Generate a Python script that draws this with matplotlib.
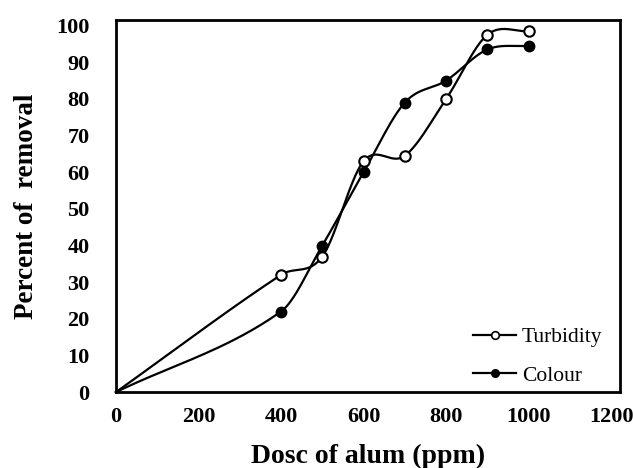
import numpy as np
import matplotlib.pyplot as plt
from matplotlib.lines import Line2D

# values
dose = [0, 400, 500, 600, 700, 800, 900, 1000]
turbidity = [0, 32, 37, 63, 64.5, 80, 97.5, 98.5]
colour = [0, 22, 40, 60, 79, 85, 93.5, 94.5]

xticks = [0, 200, 400, 600, 800, 1000, 1200]
yticks = [0, 10, 20, 30, 40, 50, 60, 70, 80, 90, 100]


def smooth(x, y, n=40):
    """Cubic Hermite curve through the points (Catmull-Rom style slopes)."""
    x = np.asarray(x, float)
    y = np.asarray(y, float)
    m = np.zeros_like(y)
    m[1:-1] = (y[2:] - y[:-2]) / (x[2:] - x[:-2])
    m[0] = (y[1] - y[0]) / (x[1] - x[0])
    m[-1] = (y[-1] - y[-2]) / (x[-1] - x[-2])
    xs, ys = [], []
    for i in range(len(x) - 1):
        h = x[i + 1] - x[i]
        t = np.linspace(0, 1, n)
        h00 = 2 * t**3 - 3 * t**2 + 1
        h10 = t**3 - 2 * t**2 + t
        h01 = -2 * t**3 + 3 * t**2
        h11 = t**3 - t**2
        xs.append(x[i] + t * h)
        ys.append(h00 * y[i] + h10 * h * m[i] + h01 * y[i + 1] + h11 * h * m[i + 1])
    return np.concatenate(xs), np.concatenate(ys)


plt.rcParams['font.family'] = ['Liberation Serif', 'DejaVu Serif']

fig = plt.figure(figsize=(6.33, 4.68), dpi=100)
ax = fig.add_axes([0.183, 0.162, 0.797, 0.795])

tx, ty = smooth(dose, turbidity)
cx, cy = smooth(dose, colour)
ax.plot(tx, ty, color='black', lw=1.6, clip_on=False)
ax.plot(cx, cy, color='black', lw=1.6, clip_on=False)
ax.plot(dose[1:], turbidity[1:], 'o', color='black', mfc='white', mew=1.5, ms=7.5)
ax.plot(dose[1:], colour[1:], 'o', color='black', mfc='black', ms=7.5)

ax.set_xlim(0, 1222)
ax.set_ylim(0, 101.5)
ax.set_xticks(xticks)
ax.set_yticks(yticks)
ax.tick_params(length=0, labelsize=16)
ax.tick_params(axis='x', pad=11)
ax.tick_params(axis='y', pad=19)
for lab in ax.get_xticklabels() + ax.get_yticklabels():
    lab.set_fontweight('bold')
for s in ax.spines.values():
    s.set_linewidth(2)

ax.set_xlabel('Dosc of alum (ppm)', fontsize=20, fontweight='bold', labelpad=12)
ax.set_ylabel('Percent of  removal', fontsize=19.5, fontweight='bold', labelpad=12)

handles = [
    Line2D([], [], color='black', lw=1.6, marker='o', mfc='white', mew=1.2, ms=5.5),
    Line2D([], [], color='black', lw=1.6, marker='o', mfc='black', ms=5.5),
]
ax.legend(handles, ['Turbidity', 'Colour'], loc='lower right', frameon=False,
          fontsize=15.5, handlelength=2.0, handletextpad=0.25, borderaxespad=0.2,
          labelspacing=0.85, bbox_to_anchor=(0.99, -0.017))

fig.savefig('out.png', dpi=100)
